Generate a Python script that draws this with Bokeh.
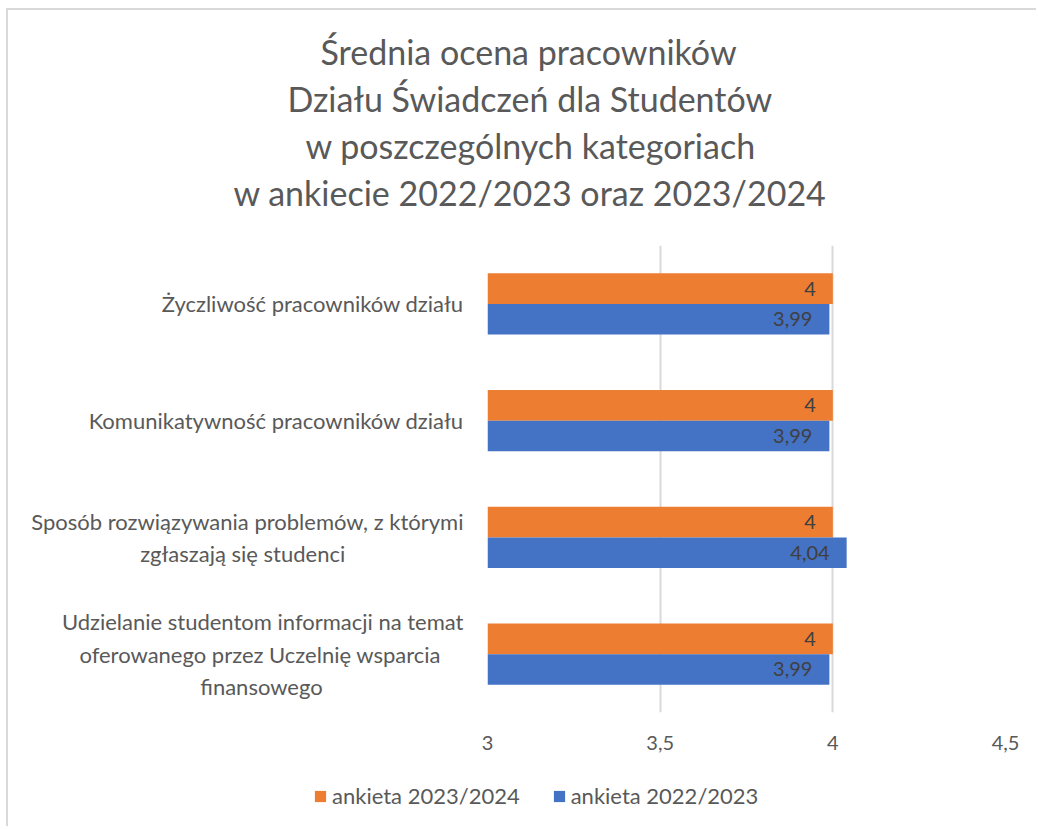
from bokeh.plotting import figure
from bokeh.layouts import column
from bokeh.models import (FactorRange, Range1d, ColumnDataSource, FixedTicker,
                          Legend, LegendItem, Title)
from bokeh.transform import dodge
from bokeh.core.properties import value
from bokeh.embed import file_html
from bokeh.resources import INLINE

# ---- data ----
categories = [
    "Życzliwość pracowników działu",
    "Komunikatywność pracowników działu",
    "Sposób rozwiązywania problemów, z którymi\nzgłaszają się studenci",
    "Udzielanie studentom informacji na temat\noferowanego przez Uczelnię wsparcia\nfinansowego",
]
series_names = ["ankieta 2023/2024", "ankieta 2022/2023"]
values_2023_2024 = [4.00, 4.00, 4.00, 4.00]
values_2022_2023 = [3.99, 3.99, 4.04, 3.99]
x_ticks = [3, 3.5, 4, 4.5]
x_tick_labels = ["3", "3,5", "4", "4,5"]
title_lines = [
    "Średnia ocena pracowników",
    "Działu Świadczeń dla Studentów",
    "w poszczególnych kategoriach",
    "w ankiecie 2022/2023 oraz 2023/2024",
]

# wrapped category labels are centred line by line (Excel style): the axis draws
# them right-aligned, so shorter lines get trailing no-break spaces
NB = "\u00a0"
line_pads = [[0], [0], [0, 21], [0, 4, 25]]

def centred(label, pads):
    return "\n".join(l + NB * n for l, n in zip(label.split("\n"), pads))

cat_labels = [centred(c, pd) for c, pd in zip(categories, line_pads)]

def fmt(v):
    s = ("%.2f" % v).rstrip("0").rstrip(".")
    return s.replace(".", ",")

COL_NEW = "#ED7D31"
COL_OLD = "#4472C4"
TXT = "#595959"
FONT = "Lato"

src = ColumnDataSource(dict(
    cat=cat_labels,
    new=values_2023_2024,
    old=values_2022_2023,
    new_lbl=[fmt(v) for v in values_2023_2024],
    old_lbl=[fmt(v) for v in values_2022_2023],
))

p = figure(
    width=1028, height=760,
    y_range=FactorRange(*reversed(cat_labels)),
    x_range=Range1d(3, 4.5),
    output_backend="svg", toolbar_location=None,
    min_border_left=479, min_border_right=31,
    min_border_top=235, min_border_bottom=58,
    outline_line_color=None,
)
p.title.visible = False

BAR_H = 0.263
OFF = 0.1315

r_new = p.hbar(y=dodge("cat", OFF, range=p.y_range), left=3, right="new", height=BAR_H,
               source=src, fill_color=COL_NEW, line_color=None)
r_old = p.hbar(y=dodge("cat", -OFF, range=p.y_range), left=3, right="old", height=BAR_H,
               source=src, fill_color=COL_OLD, line_color=None)

p.text(x="new", y=dodge("cat", OFF, range=p.y_range), text="new_lbl", source=src,
       text_align="right", text_baseline="middle", x_offset=-17,
       text_font=value(FONT), text_font_size="20px", text_color="#404040")
p.text(x="old", y=dodge("cat", -OFF, range=p.y_range), text="old_lbl", source=src,
       text_align="right", text_baseline="middle", x_offset=-17,
       text_font=value(FONT), text_font_size="20px", text_color="#404040")

# spacer between the title block and the plot area
p.add_layout(Title(text=" ", text_font_size="1px", standoff=28), "above")
# title lines (innermost first), left-aligned with offsets to centre them at x~529
title_offsets = [-167, -200, -182, -254]
for i in reversed(range(len(title_lines))):
    t = Title(text=title_lines[i], align="left", offset=title_offsets[i],
              text_font=FONT, text_font_size="34px", text_font_style="normal",
              text_color=TXT, standoff=4)
    p.add_layout(t, "above")

# x axis
p.xaxis.ticker = FixedTicker(ticks=x_ticks)
p.xaxis.major_label_overrides = {t: l for t, l in zip(x_ticks, x_tick_labels)}
p.xaxis.axis_line_color = None
p.xaxis.major_tick_line_color = None
p.xaxis.minor_tick_line_color = None
p.xaxis.major_tick_out = 0
p.xaxis.major_label_standoff = 23
p.xaxis.major_label_text_font = FONT
p.xaxis.major_label_text_font_size = "20px"
p.xaxis.major_label_text_color = TXT

# y axis
p.yaxis.axis_line_color = None
p.yaxis.major_tick_line_color = None
p.yaxis.minor_tick_line_color = None
p.yaxis.major_tick_out = 0
p.yaxis.major_label_standoff = 24
p.yaxis.major_label_text_font = FONT
p.yaxis.major_label_text_font_size = "22px"
p.yaxis.major_label_text_color = TXT

p.xgrid.grid_line_color = "#d9d9d9"
p.xgrid.grid_line_width = 2
p.ygrid.grid_line_color = None

# legend strip below the chart
lf = figure(width=1028, height=56, x_range=Range1d(3, 4.5),
            y_range=FactorRange(*reversed(cat_labels)),
            output_backend="svg", toolbar_location=None, min_border=0,
            outline_line_color=None)
try:
    lf.frame_align = False
except Exception:
    pass
lf.axis.visible = False
lf.grid.visible = False
lf.title.visible = False
l_new = lf.hbar(y="cat", left=3, right="new", height=BAR_H, source=src,
                fill_color=COL_NEW, line_color=None, visible=False)
l_old = lf.hbar(y="cat", left=3, right="old", height=BAR_H, source=src,
                fill_color=COL_OLD, line_color=None, visible=False)
legend = Legend(
    items=[LegendItem(label=series_names[0], renderers=[l_new]),
           LegendItem(label=series_names[1], renderers=[l_old])],
    orientation="horizontal", location=(305, 17),
    padding=0, spacing=32, glyph_width=14, glyph_height=14, label_standoff=5,
    label_text_font=FONT, label_text_font_size="22px", label_text_color=TXT,
    border_line_color=None, background_fill_alpha=0,
    inactive_fill_alpha=0,
)
lf.add_layout(legend, "center")

layout = column(p, lf, spacing=0,
                styles={"margin-left": "6px", "margin-top": "8px",
                        "border-left": "2px solid #d9d9d9",
                        "border-top": "2px solid #d9d9d9"})

open("out.html", "w").write(file_html(layout, INLINE))
